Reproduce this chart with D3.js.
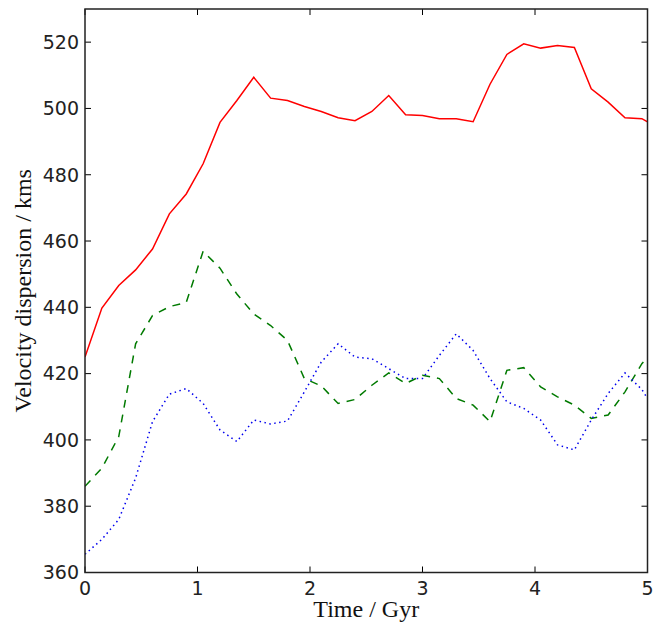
<!DOCTYPE html>
<html>
<head>
<meta charset="utf-8">
<script src="https://cdn.jsdelivr.net/npm/d3@7"></script>
<style>
  html, body { margin: 0; padding: 0; background: #fff; }
  svg { display: block; }
</style>
</head>
<body>
<svg id="chart" width="661" height="625"></svg>
<script>
const time = [0, 0.15, 0.3, 0.45, 0.6, 0.75, 0.9, 1.05, 1.2, 1.35, 1.5, 1.65, 1.8, 1.95, 2.1, 2.25, 2.4,
  2.55, 2.7, 2.85, 3.0, 3.15, 3.3, 3.45, 3.6, 3.75, 3.9, 4.05, 4.2, 4.35, 4.5, 4.65, 4.8, 4.95, 5.1];

const redSeries = [425, 439.8, 446.6, 451.3, 457.6, 468.2, 474.2, 483.3, 495.8, 502.4, 509.4, 503.1,
  502.4, 500.6, 499.1, 497.2, 496.3, 499.1, 503.9, 498.1, 497.9, 496.9, 496.9, 496.0, 507.3,
  516.3, 519.5, 518.2, 519.0, 518.4, 505.9, 501.9, 497.2, 496.9, 494];

const greenSeries = [386, 391.5, 401, 429, 437.5, 440.2, 441.5, 456.9, 451.8, 444, 438, 434.5,
  430, 418.5, 416.3, 411, 412.2, 416.5, 420.2, 417, 419.5, 418.5, 412.5, 410.5, 405.5,
  421, 421.8, 416, 413, 410.5, 406.5, 407.5, 414.5, 423, 429];

const blueSeries = [365.5, 370, 376, 388.5, 405.5, 413.8, 415.5, 411, 403, 399.5, 406, 404.8,
  405.7, 414.5, 423.5, 429, 425, 424.5, 421.5, 418.5, 418.5, 425.5, 432, 427, 418.5,
  411.5, 409.5, 406, 398.5, 397, 406, 414, 420.2, 415.2, 407];

const xTicks = [0, 1, 2, 3, 4, 5];
const yTicks = [360, 380, 400, 420, 440, 460, 480, 500, 520];
const xDomain = [0, 5];
const yDomain = [360, 530];
const xLabel = "Time / Gyr";
const yLabel = "Velocity dispersion / kms";

const svg = d3.select("#chart");
const L = 85, R = 647.5, T = 9, B = 572.5;
const x = d3.scaleLinear().domain(xDomain).range([L, R]);
const y = d3.scaleLinear().domain(yDomain).range([B, T]);

svg.append("defs").append("clipPath").attr("id", "clip")
  .append("rect").attr("x", L).attr("y", T).attr("width", R - L).attr("height", B - T);

const plot = svg.append("g").attr("clip-path", "url(#clip)");
const line = d3.line().x((d, i) => x(time[i])).y(d => y(d));

const series = [
  { data: redSeries, color: "#ff0000", dash: null, w: 1.5 },
  { data: greenSeries, color: "#007a00", dash: "8,7", w: 1.5 },
  { data: blueSeries, color: "#0000ee", dash: "1.5,3.5", w: 1.5 }
];
series.forEach(s => {
  plot.append("path").datum(s.data)
    .attr("d", line)
    .attr("fill", "none")
    .attr("stroke", s.color)
    .attr("stroke-width", s.w)
    .attr("stroke-dasharray", s.dash);
});

const tickLen = 6;
const font = "DejaVu Sans, sans-serif";
const gx = svg.append("g");
xTicks.forEach(t => {
  gx.append("line").attr("x1", x(t)).attr("x2", x(t)).attr("y1", B).attr("y2", B - tickLen).attr("stroke", "#000");
  gx.append("line").attr("x1", x(t)).attr("x2", x(t)).attr("y1", T).attr("y2", T + tickLen).attr("stroke", "#000");
  gx.append("text").attr("x", x(t)).attr("y", B + 22).attr("text-anchor", "middle")
    .attr("font-family", font).attr("font-size", 19).attr("fill", "#222").text(d3.format("d")(t));
});
const gy = svg.append("g");
yTicks.forEach(t => {
  gy.append("line").attr("x1", L).attr("x2", L + tickLen).attr("y1", y(t)).attr("y2", y(t)).attr("stroke", "#000");
  gy.append("line").attr("x1", R).attr("x2", R - tickLen).attr("y1", y(t)).attr("y2", y(t)).attr("stroke", "#000");
  gy.append("text").attr("x", L - 6).attr("y", y(t)).attr("dy", "0.36em").attr("text-anchor", "end")
    .attr("font-family", font).attr("font-size", 19).attr("fill", "#222").text(t);
});

svg.append("rect").attr("x", L).attr("y", T).attr("width", R - L).attr("height", B - T)
  .attr("fill", "none").attr("stroke", "#222").attr("stroke-width", 1.5);

svg.append("text").attr("x", (L + R) / 2).attr("y", 617).attr("text-anchor", "middle")
  .attr("font-family", "Liberation Serif, Times New Roman, serif").attr("font-size", 24).attr("fill", "#111")
  .text(xLabel);
svg.append("text").attr("transform", `translate(31,${(T + B) / 2}) rotate(-90)`).attr("text-anchor", "middle")
  .attr("font-family", "Liberation Serif, Times New Roman, serif").attr("font-size", 24).attr("fill", "#111")
  .text(yLabel);
</script>
</body>
</html>
